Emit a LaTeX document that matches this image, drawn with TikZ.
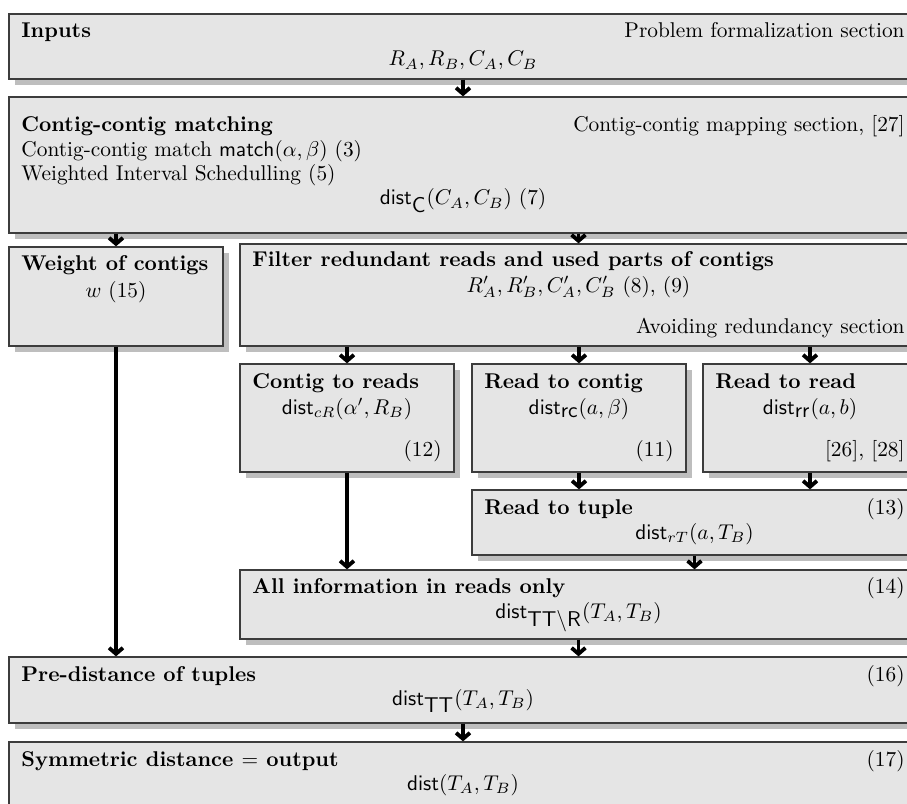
\documentclass[tikz,border=0pt]{standalone}
\usepackage{amsmath}
\usepackage{amsfonts}
\usepackage{xcolor}
\definecolor{boxGray}{RGB}{229, 229, 229}
\definecolor{shadowGray}{RGB}{190, 190, 190}
\definecolor{edgeGray}{RGB}{60, 60, 60}
\usetikzlibrary{arrows.meta, calc, shadows, fit}
\newcommand{\dst}{\mathsf{dist}}
\newcommand{\sfsub}[1]{\mbox{\sffamily #1}}
\tikzset{
    stage/.style={draw=edgeGray, line width=0.6pt, fill=boxGray, inner sep=0pt,
        drop shadow={shadow xshift=2.9pt, shadow yshift=-2.9pt, fill=shadowGray, opacity=1}},
    title/.style={anchor=base west, inner sep=0pt, font=\bfseries},
    tag/.style={anchor=base east, inner sep=0pt},
    txt/.style={anchor=base west, inner sep=0pt},
    formula/.style={anchor=base, inner sep=0pt},
    arrow/.style={-{Straight Barb[length=2.8pt, width=6.5pt]}, line width=1.8pt, draw=black}
}

\begin{document}
\begin{tikzpicture}[x=0.468pt, y=-0.468pt]
    \useasboundingbox (0,0) rectangle (907,803);
    \clip (0,0) rectangle (907,803);

    % --- INPUTS ---
    \node[stage, fit={(9,14) (917,79)}] (inputs) {};
    \node[title] (inputsTitle) at (21,38) {Inputs};
    \node[tag] (inputsRef) at (905,38) {Problem formalization section};
    \node[formula] (inputsSets) at (463,66) {$R_A, R_B, C_A, C_B$};

    % --- CONTIG-CONTIG MATCHING ---
    \node[stage, fit={(9,97) (917,233)}] (matching) {};
    \node[title] (matchingTitle) at (21,132) {Contig-contig matching};
    \node[tag] (matchingRef) at (905,132) {Contig-contig mapping section, [27]};
    \node[txt] (matchingA) at (21,157) {Contig-contig match $\mathsf{match}(\alpha, \beta)$ (3)};
    \node[txt] (matchingB) at (21,181) {Weighted Interval Schedulling (5)};
    \node[formula] (matchingDist) at (463,205) {$\dst_{\sfsub{C}}(C_A, C_B)$ (7)};

    % --- WEIGHT AND FILTER ---
    \node[stage, fit={(9,247) (223,346)}] (weight) {};
    \node[title] (weightTitle) at (21,270) {Weight of contigs};
    \node[formula] (weightEq) at (116,297) {$w$ (15)};

    \node[stage, fit={(240,244) (917,346)}] (filter) {};
    \node[title] (filterTitle) at (252,267) {Filter redundant reads and used parts of contigs};
    \node[formula] (filterSets) at (578.5,292) {$R'_A, R'_B, C'_A, C'_B$ (8), (9)};
    \node[tag] (filterRef) at (905,333) {Avoiding redundancy section};

    % --- PARTIAL DISTANCES ---
    \node[stage, fit={(240,364) (454,472)}] (contigReads) {};
    \node[title] (contigReadsTitle) at (252,388) {Contig to reads};
    \node[formula] (contigReadsDist) at (347,414) {$\dst_{cR}(\alpha', R_B)$};
    \node[tag] (contigReadsRef) at (442,456) {(12)};

    \node[stage, fit={(472,364) (686,472)}] (readContig) {};
    \node[title] (readContigTitle) at (484,388) {Read to contig};
    \node[formula] (readContigDist) at (579,414) {$\dst_{\sfsub{rc}}(a, \beta)$};
    \node[tag] (readContigRef) at (674,456) {(11)};

    \node[stage, fit={(703,364) (917,472)}] (readRead) {};
    \node[title] (readReadTitle) at (715,388) {Read to read};
    \node[formula] (readReadDist) at (810,414) {$\dst_{\sfsub{rr}}(a, b)$};
    \node[tag] (readReadRef) at (905,456) {[26], [28]};

    \node[stage, fit={(472,490) (917,555)}] (readTuple) {};
    \node[title] (readTupleTitle) at (484,514) {Read to tuple};
    \node[tag] (readTupleRef) at (905,514) {(13)};
    \node[formula] (readTupleDist) at (694.5,539) {$\dst_{rT}(a, T_B)$};

    \node[stage, fit={(240,570) (917,639)}] (allReads) {};
    \node[title] (allReadsTitle) at (252,593) {All information in reads only};
    \node[tag] (allReadsRef) at (905,593) {(14)};
    \node[formula] (allReadsDist) at (578.5,618) {$\dst_{\sfsub{TT$\setminus$R}}(T_A, T_B)$};

    % --- OUTPUT ---
    \node[stage, fit={(9,657) (917,723)}] (preDist) {};
    \node[title] (preDistTitle) at (21,681) {Pre-distance of tuples};
    \node[tag] (preDistRef) at (905,681) {(16)};
    \node[formula] (preDistDist) at (463,705) {$\dst_{\sfsub{TT}}(T_A, T_B)$};

    \node[stage, fit={(9,742) (917,808)}] (symDist) {};
    \node[title] (symDistTitle) at (21,766) {Symmetric distance $=$ output};
    \node[tag] (symDistRef) at (905,766) {(17)};
    \node[formula] (symDistDist) at (463,790) {$\dst(T_A, T_B)$};

    % arrows
    \draw[arrow] (inputs.south) -- (inputs.south |- matching.north);
    \draw[arrow] (weight.north |- matching.south) -- (weight.north);
    \draw[arrow] (filter.north |- matching.south) -- (filter.north);
    \draw[arrow] (contigReads.north |- filter.south) -- (contigReads.north);
    \draw[arrow] (readContig.north |- filter.south) -- (readContig.north);
    \draw[arrow] (readRead.north |- filter.south) -- (readRead.north);
    \draw[arrow] (contigReads.south) -- (contigReads.south |- allReads.north);
    \draw[arrow] (readContig.south) -- (readContig.south |- readTuple.north);
    \draw[arrow] (readRead.south) -- (readRead.south |- readTuple.north);
    \draw[arrow] (readTuple.south) -- (readTuple.south |- allReads.north);
    \draw[arrow] (weight.south) -- (weight.south |- preDist.north);
    \draw[arrow] (allReads.south) -- (allReads.south |- preDist.north);
    \draw[arrow] (preDist.south) -- (preDist.south |- symDist.north);
\end{tikzpicture}
\end{document}
